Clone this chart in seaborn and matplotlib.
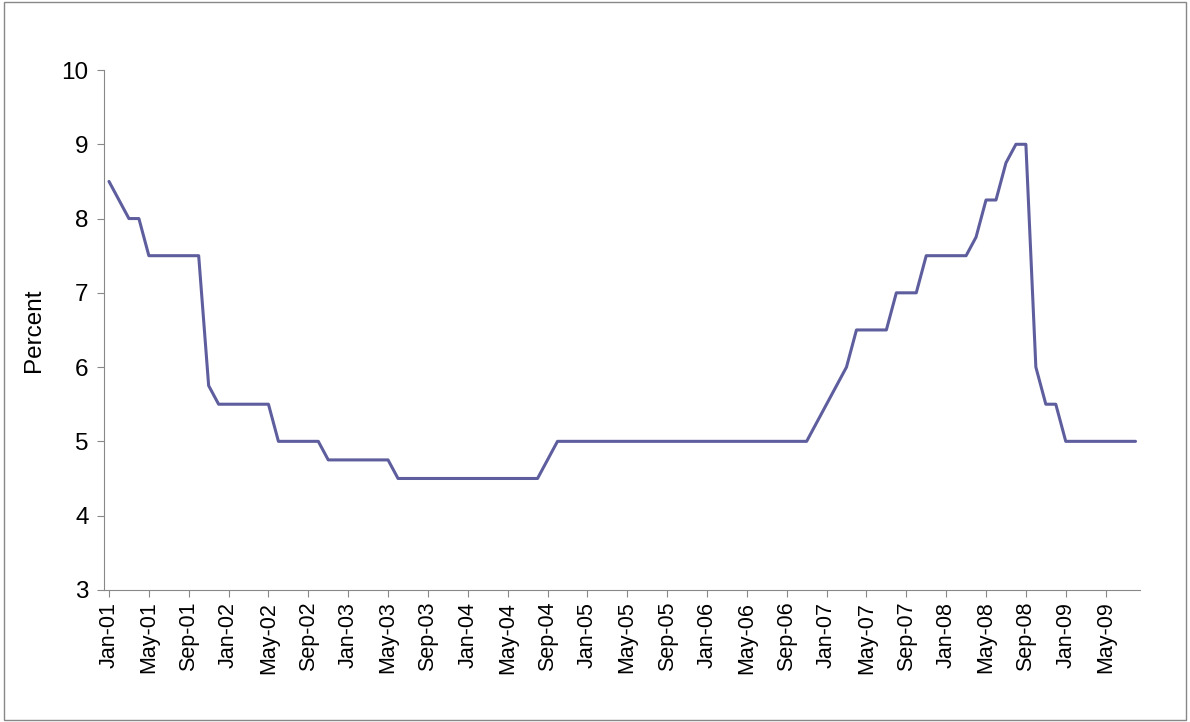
import matplotlib
matplotlib.use("Agg")
import matplotlib.pyplot as plt
import seaborn as sns
import pandas as pd

months = pd.date_range("2001-01-01", periods=104, freq="MS")
rate = ([8.5, 8.25, 8.0, 8.0] + [7.5]*6 + [5.75] + [5.5]*6 + [5.0]*5 + [4.75]*7
        + [4.5]*15 + [4.75] + [5.0]*26 + [5.25, 5.5, 5.75, 6.0] + [6.5]*4 + [7.0]*3
        + [7.5]*5 + [7.75, 8.25, 8.25, 8.75, 9.0, 9.0, 6.0, 5.5, 5.5] + [5.0]*8)
tick_labels = [m.strftime("%b-%y") for m in months[::4]]

df = pd.DataFrame({"i": range(len(months)), "rate": rate})

sns.set_style("white")
plt.rcParams['font.family'] = ['Liberation Sans', 'DejaVu Sans']
fig = plt.figure(figsize=(11.9, 7.22), dpi=100)
ax = fig.add_axes([0.0874, 0.183, 0.871, 0.72])
sns.lineplot(data=df, x="i", y="rate", ax=ax, color="#5E5E9E", linewidth=2.2)
ax.set_xlim(-0.5, len(months) - 0.5)
ax.set_ylim(3, 10)
ax.set_yticks(range(3, 11))
ax.set_xticks(range(0, len(months), 4))
ax.set_xticklabels(tick_labels, rotation=90, fontsize=15.5)
ax.tick_params(axis="y", labelsize=17.5, length=5, color="#888888", labelcolor="black",
               direction="out", left=True, pad=6)
ax.tick_params(axis="x", length=5, color="#888888", labelcolor="black", direction="out", bottom=True)
ax.set_xlabel("")
ax.set_ylabel("Percent", fontsize=17.5, color="black", labelpad=12)
for s in ["top", "right"]:
    ax.spines[s].set_visible(False)
for s in ["left", "bottom"]:
    ax.spines[s].set_color("#888888")
fig.patches.append(plt.Rectangle((0.003, 0.003), 0.994, 0.994, transform=fig.transFigure,
                                 fill=False, edgecolor="#888888", linewidth=1))
fig.savefig("out.png", dpi=100)
